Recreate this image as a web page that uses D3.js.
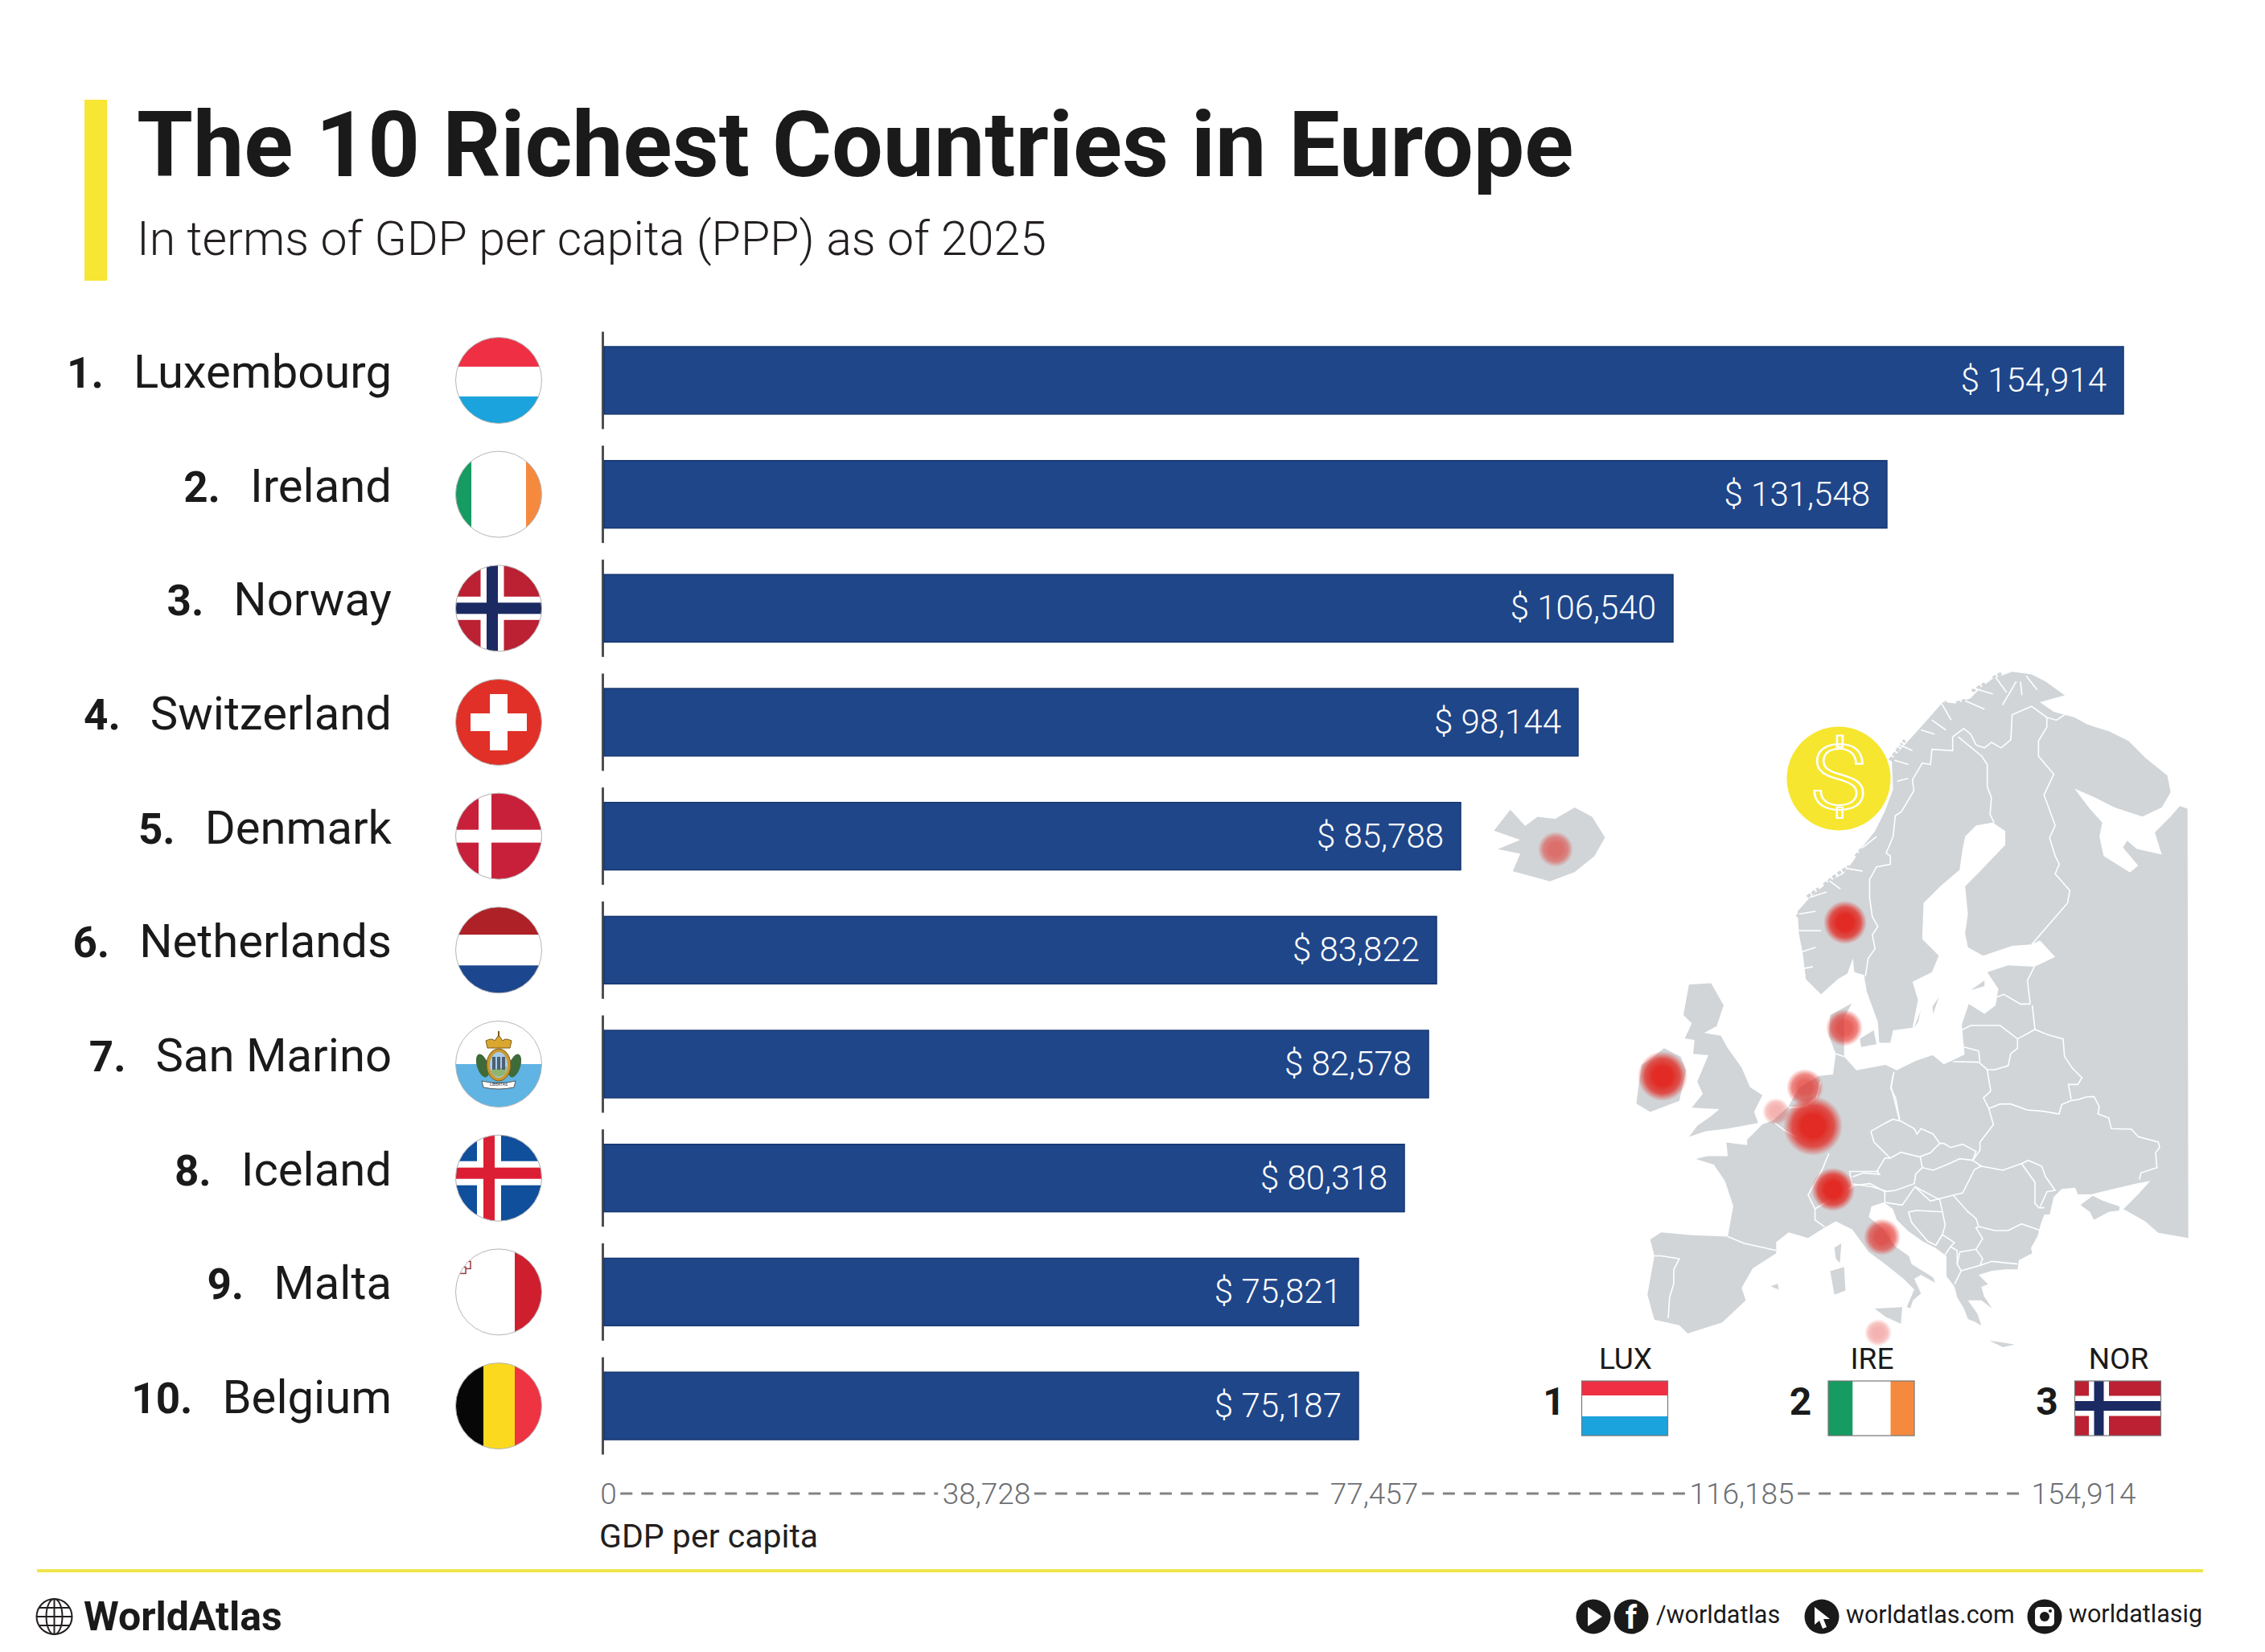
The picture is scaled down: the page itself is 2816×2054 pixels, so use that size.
<!DOCTYPE html>
<html>
<head>
<meta charset="utf-8">
<title>The 10 Richest Countries in Europe</title>
<script src="https://cdn.jsdelivr.net/npm/d3@7"></script>
<style>
  html, body { margin: 0; padding: 0; background: #fff; }
  svg { display: block; }
  text { font-family: Roboto, sans-serif; }
</style>
</head>
<body>
<svg id="chart" width="2816" height="2054"></svg>
<script>
// -------------------------------------------------------------------
// Data
var countries = ['Luxembourg', 'Ireland', 'Norway', 'Switzerland', 'Denmark', 'Netherlands', 'San Marino', 'Iceland', 'Malta', 'Belgium'];
var ranks = ['1.', '2.', '3.', '4.', '5.', '6.', '7.', '8.', '9.', '10.'];
var gdpValues = [154914, 131548, 106540, 98144, 85788, 83822, 82578, 80318, 75821, 75187];
// the bars in the picture are not quite to scale with their labels, so this is the length each one is drawn at
var barLengths = [154914, 130800, 108990, 99310, 87340, 84880, 84060, 81600, 76920, 76920];
var tickValues = [0, 38728, 77457, 116185, 154914];

var legendCodes = ['LUX', 'IRE', 'NOR'];
var legendRanks = ['1', '2', '3'];

var bubbleNames = ['Luxembourg', 'Ireland', 'Norway', 'Switzerland', 'Denmark', 'Netherlands', 'San Marino', 'Iceland', 'Belgium', 'Malta'];
var bubbleSizes = [37, 31, 27, 27, 23, 23, 23, 22, 17, 17];
var bubbleStrength = [1, 1, 1, 1, 0.75, 0.72, 0.75, 0.6, 0.36, 0.36];

// -------------------------------------------------------------------
// Map outline, traced from crops of the picture. Each helper turns crop pixels into map units
function fromCrop(ox, oy, sx, sy) {
    return function (pts) {
        return pts.map(function (p) { return [ox + p[0] / sx, oy + p[1] / (sy || sx)]; });
    };
}
var north = fromCrop(390, 10, 2.904);
var west = fromCrop(150, 380, 2.904);
var east = fromCrop(450, 430, 3);
var far = fromCrop(0, 0, 1.623, 1.74);

var coastNorth = north([[70,1180],[15,1125],[5,1040],[-10,960],[-15,880],[30,830],[95,775],[150,745],[185,700],[225,640],[265,590],[300,520],[330,440],[325,330],[380,270],[430,215],[470,170],[510,125],[560,130],[610,110],[650,70],[690,40],[760,15],[830,25],[880,50],[950,100],[860,125],[910,160],[985,180],[1030,205],[1060,215],[1110,230],[1180,265],[1240,325],[1320,390],[1332,450],[1300,505],[1230,538],[1130,505],[1060,470],[985,437],[1040,510],[1085,560],[1075,610],[1090,680],[1185,740],[1215,715],[1160,650],[1175,625],[1210,655],[1300,675],[1275,595],[1330,540],[1365,500],[1393,510]]);
var coastEast = east([[1262,868],[1150,848],[1100,805],[1020,760],[1075,705],[1120,655],[1065,665],[960,690],[900,705],[850,705],[840,680],[790,685],[760,715],[745,780],[725,780],[710,820],[700,860],[675,905],[680,925],[630,950],[625,985],[580,985],[530,990],[480,1005],[515,1040],[490,1050],[500,1085],[530,1130],[490,1100],[440,1100],[475,1150],[490,1195],[465,1180],[440,1170],[425,1130],[400,1090],[390,1050],[360,1010],[360,935],[320,905],[270,880],[215,840],[175,800],[160,760],[140,745],[125,735],[80,750],[70,790],[120,830],[170,900],[220,935],[230,965],[310,1015],[318,1035],[265,1005],[240,1020],[265,1075],[235,1100],[225,1130],[212,1125],[240,1060],[200,1020],[125,960],[70,920]]);
var coastWest = west([[880,955],[820,925],[775,950],[720,985],[650,965],[605,1000],[605,1040],[520,1095],[480,1165],[495,1210],[410,1290],[285,1330],[255,1300],[165,1280],[140,1190],[165,1050],[150,990],[190,965],[300,975],[430,980],[450,870],[420,780],[380,720],[315,700],[355,690],[430,690],[425,640],[500,650],[500,630],[555,575],[595,560],[650,510],[660,490],[690,440],[760,400],[810,395],[820,320],[795,255],[800,180],[878,138],[850,190],[850,290],[850,330],[895,380],[1000,360],[1040,380],[1110,345],[1170,325],[1210,358],[1240,345],[1285,322],[1275,215],[1300,140]]);
var coastBaltic = north([[660,1250],[700,1220],[710,1160],[670,1100],[745,1075],[840,1080],[915,1045],[860,985],[830,1000],[760,1005],[655,1040],[600,1010],[590,960],[600,890],[590,790],[640,740],[735,640],[735,590],[690,560],[630,570],[590,610],[580,660],[570,730],[500,790],[440,850],[435,980],[495,1040],[470,1100],[400,1135],[420,1200],[400,1300],[330,1310],[320,1355],[280,1355],[275,1280],[235,1170],[225,1110],[190,1100],[185,1050],[165,1105],[130,1125],[70,1180]]);

var landShapes = [
    coastNorth.concat(coastEast, coastWest, coastBaltic),
    // Iceland
    far([[12,370],[45,325],[75,360],[100,340],[135,345],[175,320],[210,340],[236,385],[215,425],[175,460],[125,480],[50,458],[65,420],[20,410],[65,390]]),
    // Great Britain, Ireland
    west([[370,65],[415,145],[390,220],[345,245],[405,255],[430,300],[480,370],[510,440],[555,470],[525,530],[540,570],[430,590],[350,600],[290,620],[320,580],[370,545],[400,520],[300,515],[340,465],[320,420],[360,325],[305,320],[310,270],[275,265],[300,210],[270,180],[290,70]]),
    west([[200,300],[260,330],[280,380],[255,490],[150,530],[100,500],[110,420],[120,360],[150,340]]),
    // Mediterranean islands
    west([[815,1020],[840,1005],[835,1075],[820,1060]]),
    west([[800,1105],[850,1090],[855,1175],[815,1190]]),
    west([[960,1240],[1060,1235],[1055,1295],[1000,1270]]),
    west([[585,1160],[610,1150],[615,1172]]),
    east([[860,745],[905,710],[945,730],[1005,750],[1005,765],[965,770],[910,800],[895,770]]),
    east([[520,1250],[570,1258],[615,1265],[570,1275]]),
    // Baltic islands
    north([[495,1190],[475,1250],[472,1225]]),
    north([[405,1300],[430,1240],[420,1280]]),
    north([[210,1340],[260,1310],[270,1360],[215,1370]]),
    north([[610,1165],[660,1130],[660,1150]])
];

// small islands off the Norwegian coast
var skerries = [
    north([[318,335],[372,262]]), north([[425,240],[452,203]]), north([[480,172],[522,122]]),
    north([[558,128],[592,118]]), north([[615,85],[662,58]]), north([[690,38],[722,20]]),
    north([[130,745],[172,718]]), north([[195,682],[222,648]]), north([[20,828],[62,798]]),
    north([[80,785],[126,748]]), north([[-18,900],[20,860]])
];

var borderLines = [
    north([[545,250],[545,300],[470,295],[465,350],[435,345],[400,405],[405,445],[360,520],[338,535],[330,610],[305,670],[320,680],[320,710],[270,720],[245,765],[245,830],[255,900],[275,935],[255,965],[265,1015],[240,1050],[230,1115]]),
    north([[545,250],[585,220],[610,240],[630,280],[660,290],[685,270],[720,290],[755,260],[760,170],[830,140],[885,180]]),
    north([[565,250],[650,320],[670,350],[670,430],[685,470],[680,530],[695,560]]),
    north([[950,170],[920,190],[885,180],[885,215],[855,265],[855,320],[910,385],[875,460],[915,570],[895,615],[915,680],[930,710],[915,745],[968,805],[960,850],[830,1000]]),
    north([[840,1080],[815,1130],[825,1215]]),
    north([[705,1190],[730,1180],[790,1215],[825,1215]]),
    east([[680,0],[690,90]]),
    east([[418,92],[450,75],[560,75],[625,125],[690,90]]),
    east([[690,90],[740,110],[795,125],[800,190],[830,235],[865,270],[850,295],[815,295],[825,350]]),
    east([[625,125],[625,160],[600,180],[590,225],[540,240],[512,240]]),
    east([[425,155],[480,170],[485,210]]),
    east([[385,210],[480,212],[512,240],[525,320],[498,345],[518,385],[535,445],[485,510],[485,540],[458,578]]),
    east([[518,385],[560,368],[600,368],[660,390],[720,395],[780,405],[790,370],[825,355],[850,352],[880,342],[910,340],[930,378],[925,405],[965,420],[975,460],[1050,462],[1075,490],[1150,510],[1155,530],[1140,550],[1145,605],[1085,625],[1080,650]]),
    east([[160,262],[152,310],[170,345],[185,425]]),
    east([[78,470],[130,440],[160,425],[190,432],[240,460],[250,480],[265,460],[310,480],[335,515],[350,515],[375,530],[420,518],[470,545],[458,578]]),
    east([[78,470],[90,510],[150,570],[190,548],[260,565],[300,550],[335,515]]),
    east([[458,578],[410,572],[360,595],[310,615],[270,605],[262,565]]),
    east([[270,605],[245,630],[240,665],[170,690],[130,695],[75,665],[10,672]]),
    east([[150,570],[130,570],[100,620],[110,630],[50,625],[10,640]]),
    east([[240,675],[300,730],[385,708],[420,700],[465,612],[490,600],[458,578]]),
    east([[490,600],[570,615],[640,590],[690,660],[690,740],[705,755],[725,755]]),
    east([[640,590],[665,578],[715,600],[730,640],[765,690],[735,695],[710,750]]),
    east([[480,825],[540,840],[590,840],[640,815],[705,838]]),
    east([[385,708],[440,770],[470,795],[480,825],[470,830],[495,870],[470,910]]),
    east([[130,695],[130,735],[195,745],[240,680]]),
    east([[240,675],[335,725],[345,770]]),
    east([[218,770],[250,765],[345,770],[355,820],[345,855],[320,895],[290,880],[230,810],[218,770]]),
    east([[320,895],[345,855],[390,885],[375,900],[355,930]]),
    east([[375,900],[400,915],[400,965],[415,990],[390,1040]]),
    east([[400,965],[410,920],[470,910],[495,945],[485,970],[415,990]]),
    east([[485,970],[530,955],[625,965]]),
    west([[430,980],[490,1005],[560,1020],[605,1030]]),
    west([[165,1050],[190,1050],[255,1060],[235,1100],[235,1150],[220,1200],[215,1275]]),
    west([[765,420],[750,480],[710,510],[650,515]]),
    west([[600,570],[640,600],[680,620]]),
    west([[795,680],[770,740],[720,830],[745,880],[745,920],[780,945]]),
    west([[745,880],[880,800],[870,745],[975,745]]),
    west([[880,790],[950,800],[1000,815]]),
    west([[820,320],[850,330]]),
    west([[1030,385],[1020,440],[1050,560]]),
    // fjords along the Norwegian coast
    north([[345,275],[400,300]]), north([[335,335],[385,350]]), north([[345,410],[385,400]]),
    north([[430,225],[480,240]]), north([[470,190],[520,225]]), north([[505,130],[540,190]]),
    north([[590,120],[660,150]]), north([[620,75],[690,95]]), north([[700,35],[740,90]]),
    north([[725,135],[775,50]]), north([[790,50],[795,100]]), north([[810,30],[850,80]]),
    north([[220,650],[270,610]]), north([[160,725],[220,735]]), north([[100,770],[140,800]]),
    north([[30,830],[90,810]]), north([[-10,890],[50,880]]), north([[-10,950],[70,950]]),
    north([[-10,1030],[50,1010]]), north([[-10,1090],[40,1080]])
];

var bubblePoints = [[404,580],[217,518],[444,327],[429,659],[443,458],[394,532],[490,718],[84,236],[358,562],[485,837]];

// -------------------------------------------------------------------
// Scales
var svg = d3.select('#chart');

var x = d3.scaleLinear().domain([0, 154914]).range([751, 2640]);
var y = d3.scaleBand().domain(countries).range([431, 1790]).paddingInner(0.408);

// the axis under the bars is only roughly spaced in the picture, so each tick gets its own stop
var axisX = d3.scaleLinear().domain(tickValues).range([756, 1226, 1708, 2165, 2590]);

var mapX = d3.scaleLinear().domain([0, 966]).range([1850, 2816]);
var mapY = d3.scaleLinear().domain([0, 900]).range([820, 1720]);

var defs = svg.append('defs');

// -------------------------------------------------------------------
// Title block
svg.append('rect').attr('x', 105).attr('y', 124).attr('width', 28).attr('height', 225).attr('fill', '#f7e633');
svg.append('text').attr('x', 170).attr('y', 219).attr('font-size', 113).attr('font-weight', 700).attr('fill', '#1a1a1a')
    .text('The 10 Richest Countries in Europe');
svg.append('text').attr('x', 170).attr('y', 317).attr('font-size', 59).attr('font-weight', 300).attr('fill', '#231f20')
    .text('In terms of GDP per capita (PPP) as of 2025');

// -------------------------------------------------------------------
// Map goes under everything else
var land = d3.line().x(function (d) { return mapX(d[0]); }).y(function (d) { return mapY(d[1]); });

svg.append('g').selectAll('path').data(landShapes).join('path')
    .attr('d', function (d) { return land(d) + 'Z'; })
    .attr('fill', '#d1d5d8');

svg.append('g').selectAll('path').data(skerries).join('path')
    .attr('d', land)
    .attr('fill', 'none')
    .attr('stroke', '#d1d5d8')
    .attr('stroke-width', 4)
    .attr('stroke-dasharray', '5 2');

svg.append('g').selectAll('path').data(borderLines).join('path')
    .attr('d', land)
    .attr('fill', 'none')
    .attr('stroke', '#fff')
    .attr('stroke-width', 1.6);

var glow = defs.append('radialGradient').attr('id', 'glow');
glow.append('stop').attr('offset', '0.38').attr('stop-color', '#e12b24');
glow.append('stop').attr('offset', '0.7').attr('stop-color', '#e12b24').attr('stop-opacity', 0.78);
glow.append('stop').attr('offset', '1').attr('stop-color', '#e12b24').attr('stop-opacity', 0);

svg.append('g').selectAll('circle').data(bubbleNames).join('circle')
    .attr('cx', function (d, i) { return mapX(bubblePoints[i][0]); })
    .attr('cy', function (d, i) { return mapY(bubblePoints[i][1]); })
    .attr('r', function (d, i) { return bubbleSizes[i]; })
    .attr('opacity', function (d, i) { return bubbleStrength[i]; })
    .attr('fill', 'url(#glow)');

svg.append('circle').attr('cx', 2286).attr('cy', 968).attr('r', 64.5).attr('fill', '#f6e62f');
svg.append('text').attr('transform', 'translate(2286,1006) scale(1.22,1)').attr('text-anchor', 'middle')
    .attr('font-size', 112).attr('font-weight', 300)
    .attr('fill', 'none').attr('stroke', '#fff').attr('stroke-width', 2.2)
    .text('$');

// -------------------------------------------------------------------
// Flags, drawn around (0,0) in a w by h box
function stripesH(g, w, h, colors, lo, hi) {
    g.append('rect').attr('x', -w / 2).attr('y', -h / 2).attr('width', w).attr('height', lo + h / 2).attr('fill', colors[0]);
    g.append('rect').attr('x', -w / 2).attr('y', lo).attr('width', w).attr('height', hi - lo).attr('fill', colors[1]);
    g.append('rect').attr('x', -w / 2).attr('y', hi).attr('width', w).attr('height', h / 2 - hi).attr('fill', colors[2]);
}

function stripesV(g, w, h, colors, lo, hi) {
    g.append('rect').attr('x', -w / 2).attr('y', -h / 2).attr('width', lo + w / 2).attr('height', h).attr('fill', colors[0]);
    g.append('rect').attr('x', lo).attr('y', -h / 2).attr('width', hi - lo).attr('height', h).attr('fill', colors[1]);
    g.append('rect').attr('x', hi).attr('y', -h / 2).attr('width', w / 2 - hi).attr('height', h).attr('fill', colors[2]);
}

function cross(g, w, h, cx, cy, color, size) {
    g.append('rect').attr('x', cx - size / 2).attr('y', -h / 2).attr('width', size).attr('height', h).attr('fill', color);
    g.append('rect').attr('x', -w / 2).attr('y', cy - size / 2).attr('width', w).attr('height', size).attr('fill', color);
}

function plain(g, w, h, color) {
    g.append('rect').attr('x', -w / 2).attr('y', -h / 2).attr('width', w).attr('height', h).attr('fill', color);
}

function norway(g, w, h, cx, cy, outer, inner) {
    plain(g, w, h, '#bb2033');
    cross(g, w, h, cx, cy, '#fff', outer);
    cross(g, w, h, cx, cy, '#1b2a63', inner);
}

function sanMarinoArms(g) {
    // wreath
    g.append('ellipse').attr('cx', -20).attr('cy', 2).attr('rx', 7).attr('ry', 15).attr('transform', 'rotate(-18 -20 2)').attr('fill', '#3f6b3a');
    g.append('ellipse').attr('cx', 20).attr('cy', 2).attr('rx', 7).attr('ry', 15).attr('transform', 'rotate(18 20 2)').attr('fill', '#3f6b3a');
    // shield
    g.append('ellipse').attr('cx', 0).attr('cy', 1).attr('rx', 15).attr('ry', 20).attr('fill', '#c99a2e').attr('stroke', '#7d5a18');
    g.append('ellipse').attr('cx', 0).attr('cy', 1).attr('rx', 11).attr('ry', 16).attr('fill', '#a8cdea');
    g.append('path').attr('d', 'M-10,8L10,3L8,12Q0,19 -7,13Z').attr('fill', '#8fb573');
    [-6, 0, 6].forEach(function (tx) {
        g.append('rect').attr('x', tx - 2).attr('y', -9).attr('width', 4).attr('height', 16).attr('fill', '#4d5f70');
    });
    // crown
    g.append('path').attr('d', 'M-14,-20L-16,-29Q-8,-33 -5,-29L0,-36L5,-29Q8,-33 16,-29L14,-20Z').attr('fill', '#d9a72f').attr('stroke', '#7d5a18');
    g.append('rect').attr('x', -1).attr('y', -41).attr('width', 2).attr('height', 7).attr('fill', '#7d5a18');
    // ribbon
    g.append('path').attr('d', 'M-21,21Q0,26 21,21L19,29Q0,33 -19,29Z').attr('fill', '#fff').attr('stroke', '#555');
    g.append('text').attr('y', 27).attr('text-anchor', 'middle').attr('font-size', 5).attr('fill', '#222').text('LIBERTAS');
}

var rowFlags = {
    'Luxembourg': function (g, w, h) { stripesH(g, w, h, ['#ee2f44', '#fff', '#1aa3dc'], -17, 20); },
    'Ireland': function (g, w, h) { stripesV(g, w, h, ['#169b62', '#fff', '#f58a3f'], -34, 34); },
    'Norway': function (g, w, h) { norway(g, w, h, -8, 0, 29, 14); },
    'Switzerland': function (g, w, h) {
        plain(g, w, h, '#e03027');
        g.append('rect').attr('x', -11).attr('y', -35).attr('width', 22).attr('height', 70).attr('fill', '#fff');
        g.append('rect').attr('x', -35).attr('y', -11).attr('width', 70).attr('height', 22).attr('fill', '#fff');
    },
    'Denmark': function (g, w, h) { plain(g, w, h, '#c8203a'); cross(g, w, h, -17, 0, '#fff', 16); },
    'Netherlands': function (g, w, h) { stripesH(g, w, h, ['#ad2127', '#fff', '#1c468d'], -19, 19); },
    'San Marino': function (g, w, h) {
        stripesH(g, w, h, ['#fff', '#fff', '#5fb4e4'], -1, 0);
        sanMarinoArms(g);
    },
    'Iceland': function (g, w, h) {
        plain(g, w, h, '#0f4f9c');
        cross(g, w, h, -12, -6, '#fff', 30);
        cross(g, w, h, -12, -6, '#dc1e35', 14);
    },
    'Malta': function (g, w, h) {
        stripesV(g, w, h, ['#fff', '#fff', '#cf1f2e'], -1, 20);
        g.append('rect').attr('x', -44).attr('y', -38).attr('width', 9).attr('height', 9).attr('fill', '#fff').attr('stroke', '#9a3a42').attr('stroke-width', 1.5);
        g.append('rect').attr('x', -49).attr('y', -31).attr('width', 8).attr('height', 8).attr('fill', '#fff').attr('stroke', '#9a3a42').attr('stroke-width', 1.5);
    },
    'Belgium': function (g, w, h) { stripesV(g, w, h, ['#070707', '#fbd91f', '#ee3342'], -19, 20); }
};

var legendFlags = {
    'LUX': function (g, w, h) { stripesH(g, w, h, ['#ee2f44', '#fff', '#1aa3dc'], -16, 10); },
    'IRE': function (g, w, h) { stripesV(g, w, h, ['#169b62', '#fff', '#f58a3f'], -23, 24); },
    'NOR': function (g, w, h) { norway(g, w, h, -23.5, -3, 25, 12); }
};

// -------------------------------------------------------------------
// Rows: label, flag, stem and bar
var rows = svg.append('g').selectAll('g').data(countries).join('g')
    .attr('transform', function (d) { return 'translate(0,' + (y(d) + y.bandwidth() / 2) + ')'; });

rows.append('text')
    .attr('class', 'name')
    .attr('x', 487)
    .attr('y', 9)
    .attr('text-anchor', 'end')
    .attr('font-size', 58)
    .attr('fill', '#1a1a1a')
    .text(function (d) { return d; });

rows.each(function (d, i) {
    var row = d3.select(this);
    var nameWidth = row.select('.name').node().getComputedTextLength();
    row.append('text')
        .attr('x', 487 - nameWidth - 37)
        .attr('y', 9)
        .attr('text-anchor', 'end')
        .attr('font-size', 53)
        .attr('font-weight', 700)
        .attr('fill', '#1a1a1a')
        .text(ranks[i]);

    var clipId = 'flag-' + i;
    defs.append('clipPath').attr('id', clipId).append('circle').attr('r', 53.5);
    var flag = row.append('g').attr('transform', 'translate(620,0)');
    var inner = flag.append('g').attr('clip-path', 'url(#' + clipId + ')');
    rowFlags[d](inner, 107, 107);
    flag.append('circle').attr('r', 53.5).attr('fill', 'none').attr('stroke', '#b5b5b5').attr('stroke-width', 1);
});

rows.append('rect')
    .attr('x', 748)
    .attr('y', -60.5)
    .attr('width', 3)
    .attr('height', 121)
    .attr('fill', '#4d4f52');

rows.append('rect')
    .attr('x', x(0))
    .attr('y', -y.bandwidth() / 2)
    .attr('width', function (d, i) { return x(barLengths[i]) - x(0); })
    .attr('height', y.bandwidth())
    .attr('fill', '#1f4689')
    .attr('stroke', '#163670')
    .attr('stroke-width', 1.5);

rows.append('text')
    .attr('x', function (d, i) { return x(barLengths[i]) - 21; })
    .attr('y', 14)
    .attr('text-anchor', 'end')
    .attr('font-size', 42)
    .attr('font-weight', 300)
    .attr('fill', '#fff')
    .text(function (d, i) { return '$ ' + d3.format(',')(gdpValues[i]); });

// -------------------------------------------------------------------
// Axis under the bars: the dashes run from label to label
var axisY = 1857;
var axisGroup = svg.append('g')
    .attr('transform', 'translate(0,' + axisY + ')')
    .call(d3.axisBottom(axisX).tickValues(tickValues).tickSize(0).tickFormat(d3.format(',')));
axisGroup.select('.domain').remove();
axisGroup.selectAll('text')
    .attr('y', 0)
    .attr('dy', '0.35em')
    .attr('font-size', 37)
    .attr('font-weight', 300)
    .attr('font-family', 'Roboto, sans-serif')
    .attr('fill', '#6d6f72');

var tickWidths = [];
axisGroup.selectAll('text').each(function () { tickWidths.push(this.getComputedTextLength()); });

tickValues.slice(1).forEach(function (t, i) {
    svg.append('line')
        .attr('x1', axisX(tickValues[i]) + tickWidths[i] / 2 + 5)
        .attr('x2', axisX(t) - tickWidths[i + 1] / 2 - 5)
        .attr('y1', axisY)
        .attr('y2', axisY)
        .attr('stroke', '#808285')
        .attr('stroke-width', 3)
        .attr('stroke-dasharray', '15 11');
});

svg.append('text').attr('x', 745).attr('y', 1924).attr('font-size', 41).attr('fill', '#231f20').text('GDP per capita');

// -------------------------------------------------------------------
// Top three legend
var legendX = d3.scalePoint().domain(legendCodes).range([2020, 2633]);

var legend = svg.append('g').selectAll('g').data(legendCodes).join('g')
    .attr('transform', function (d) { return 'translate(' + legendX(d) + ',1751)'; });

legend.append('text')
    .attr('x', 1)
    .attr('y', -49)
    .attr('text-anchor', 'middle')
    .attr('font-size', 37)
    .attr('fill', '#1a1a1a')
    .text(function (d) { return d; });

legend.append('text')
    .attr('x', -88)
    .attr('y', 8)
    .attr('text-anchor', 'middle')
    .attr('font-size', 48)
    .attr('font-weight', 700)
    .attr('fill', '#1a1a1a')
    .text(function (d, i) { return legendRanks[i]; });

legend.each(function (d) {
    var g = d3.select(this);
    legendFlags[d](g, 107, 68);
    g.append('rect').attr('x', -53.5).attr('y', -34).attr('width', 107).attr('height', 68)
        .attr('fill', 'none').attr('stroke', '#777').attr('stroke-width', 1.2);
});

// -------------------------------------------------------------------
// Footer
svg.append('line').attr('x1', 46).attr('x2', 2739).attr('y1', 1953).attr('y2', 1953).attr('stroke', '#efe54a').attr('stroke-width', 4);

var globe = svg.append('g').attr('transform', 'translate(67.5,2010)')
    .attr('fill', 'none').attr('stroke', '#231f20').attr('stroke-width', 2);
globe.append('circle').attr('r', 22);
globe.append('ellipse').attr('rx', 10).attr('ry', 22);
globe.append('line').attr('x1', 0).attr('x2', 0).attr('y1', -22).attr('y2', 22);
[-11, 0, 11].forEach(function (gy) {
    var half = Math.sqrt(22 * 22 - gy * gy);
    globe.append('line').attr('x1', -half).attr('x2', half).attr('y1', gy).attr('y2', gy);
});

svg.append('text').attr('x', 104).attr('y', 2027).attr('font-size', 50).attr('font-weight', 700)
    .attr('font-family', '"Open Sans", sans-serif').attr('fill', '#1a1a1a').text('WorldAtlas');

function socialDisc(cx) {
    var g = svg.append('g').attr('transform', 'translate(' + cx + ',2010)');
    g.append('circle').attr('r', 21.5).attr('fill', '#1a1a1a');
    return g;
}

socialDisc(1981).append('path').attr('d', 'M-7,-12L11,0L-7,12Z').attr('fill', '#fff');
socialDisc(2028).append('text').attr('y', 15).attr('text-anchor', 'middle').attr('font-size', 40).attr('font-weight', 700).attr('fill', '#fff').text('f');
socialDisc(2265).append('path').attr('d', 'M-9,-12L10,3L2,3L6,13L1,15L-3,5L-9,10Z').attr('fill', '#fff');
var insta = socialDisc(2542);
insta.append('rect').attr('x', -12).attr('y', -12).attr('width', 24).attr('height', 24).attr('rx', 5).attr('fill', '#fff');
insta.append('circle').attr('r', 6).attr('fill', '#1a1a1a');
insta.append('circle').attr('cx', 7).attr('cy', -7).attr('r', 2).attr('fill', '#1a1a1a');

svg.append('text').attr('x', 2059).attr('y', 2018).attr('font-size', 30.5).attr('fill', '#1a1a1a').text('/worldatlas');
svg.append('text').attr('x', 2295).attr('y', 2018).attr('font-size', 30.5).attr('fill', '#1a1a1a').text('worldatlas.com');
svg.append('text').attr('x', 2572).attr('y', 2017).attr('font-size', 30.5).attr('fill', '#1a1a1a').text('worldatlasig');
</script>
</body>
</html>
